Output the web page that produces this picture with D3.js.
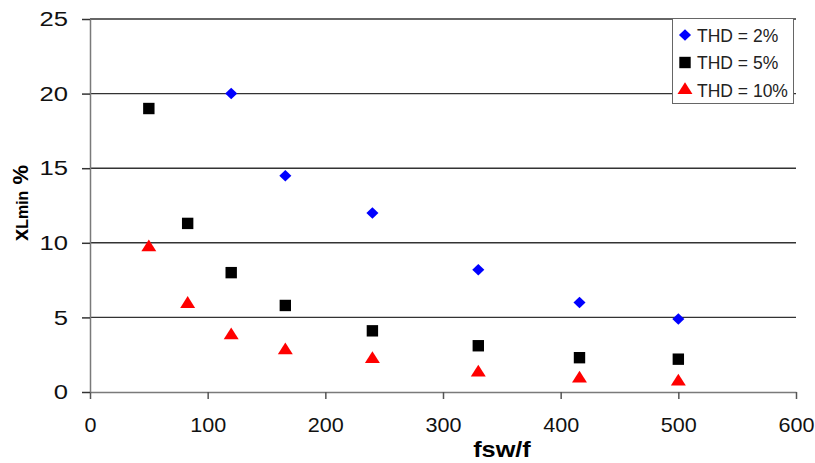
<!DOCTYPE html>
<html>
<head>
<meta charset="utf-8">
<script src="https://cdn.jsdelivr.net/npm/d3@7"></script>
<style>
body { margin: 0; background: #fff; }
svg text { font-family: "Liberation Sans", Arial, sans-serif; }
</style>
</head>
<body>
<svg id="graphique" width="815" height="463"></svg>
<script>
// valeurs
var fsw2 = [120, 166, 240, 330, 416, 500];
var thd2 = [20, 14.5, 12, 8.2, 6, 4.9];
var fsw5 = [50, 83, 120, 166, 240, 330, 416, 500];
var thd5 = [19, 11.3, 8, 5.8, 4.1, 3.1, 2.3, 2.2];
var fsw10 = [50, 83, 120, 166, 240, 330, 416, 500];
var thd10 = [9.7, 5.9, 3.8, 2.8, 2.2, 1.3, 0.9, 0.7];
var xTicks = [0, 100, 200, 300, 400, 500, 600];
var yTicks = [0, 5, 10, 15, 20, 25];
var legendLabels = ["THD = 2%", "THD = 5%", "THD = 10%"];

var series = [
	{ x: fsw2, y: thd2, symbol: d3.symbolSquare, color: "#0000ff", size: 66, rot: 45, sx: 1.05 },
	{ x: fsw5, y: thd5, symbol: d3.symbolSquare, color: "#000000", size: 130, rot: 0, sx: 1 },
	{ x: fsw10, y: thd10, symbol: d3.symbolTriangle, color: "#ff0000", size: 80, rot: 0, sx: 1.1 }
];

function markTransform(s, px, py){
	return "translate(" + px + "," + py + ") scale(" + s.sx + ",1) rotate(" + s.rot + ")";
}

var graphique = d3.select("#graphique");
var MARGINS = { top: 19, right: 19, bottom: 71, left: 90 };
var WIDTH = 815, HEIGHT = 463;

var xScale = d3.scaleLinear().domain([0, 600]).range([MARGINS.left, WIDTH - MARGINS.right]);
var yScale = d3.scaleLinear().domain([0, 25]).range([HEIGHT - MARGINS.bottom, MARGINS.top]);

// lignes horizontales
graphique.append("g").selectAll("line")
	.data(yTicks.filter(function(d){ return d > 0; }))
	.enter().append("line")
	.attr("x1", xScale(0)).attr("x2", xScale(600))
	.attr("y1", function(d){ return yScale(d); })
	.attr("y2", function(d){ return yScale(d); })
	.attr("stroke", "#333")
	.attr("stroke-width", 1.4);

// axes
var xAxis = d3.axisBottom(xScale).tickValues(xTicks).tickSize(7).tickSizeOuter(0);
var yAxis = d3.axisLeft(yScale).tickValues(yTicks).tickSize(8).tickSizeOuter(0);

var gx = graphique.append("g")
	.attr("transform", "translate(0," + yScale(0) + ")")
	.call(xAxis);
gx.selectAll(".tick text").attr("font-size", 20).attr("dy", "1.5em").attr("fill", "#111")
	.attr("transform", "scale(1.08,1)")
	.attr("x", 0);

var gy = graphique.append("g")
	.attr("transform", "translate(" + xScale(0) + ",0)")
	.call(yAxis);
gy.selectAll(".tick text").attr("font-size", 21).attr("fill", "#111")
	.attr("x", 0)
	.attr("transform", "translate(-22,0) scale(1.22,1)");

graphique.selectAll(".domain, .tick line").attr("stroke", "#7a7a7a").attr("stroke-width", 1.5);
gx.selectAll(".tick line").attr("stroke", "#555");
gy.selectAll(".tick line").attr("stroke", "#333");

// titres des axes
graphique.append("text")
	.attr("transform", "translate(502,457) scale(1.15,1)")
	.attr("text-anchor", "middle")
	.attr("font-size", 22).attr("font-weight", "bold")
	.text("fsw/f");

var ylab = graphique.append("text")
	.attr("transform", "translate(28,203) rotate(-90)")
	.attr("text-anchor", "middle")
	.attr("font-weight", "bold");
ylab.append("tspan").attr("font-size", 22).text("x");
ylab.append("tspan").attr("font-size", 16).text("Lmin");
ylab.append("tspan").attr("font-size", 22).text(" %");

// points
series.forEach(function(s){
	var pts = s.x.map(function(v, i){ return { x: v, y: s.y[i] }; });
	graphique.append("g").selectAll("path")
		.data(pts)
		.enter().append("path")
		.attr("d", d3.symbol().type(s.symbol).size(s.size))
		.attr("transform", function(d){ return markTransform(s, xScale(d.x), yScale(d.y)); })
		.attr("fill", s.color);
});

// legende
var leg = graphique.append("g");
leg.append("rect")
	.attr("x", 672.5).attr("y", 18.5).attr("width", 121).attr("height", 85)
	.attr("fill", "#fff").attr("stroke", "#666").attr("stroke-width", 1);
legendLabels.forEach(function(lab, i){
	var cy = 35 + i * 27.5;
	leg.append("path")
		.attr("d", d3.symbol().type(series[i].symbol).size(series[i].size))
		.attr("transform", markTransform(series[i], 685, cy))
		.attr("fill", series[i].color);
	leg.append("text")
		.attr("x", 697).attr("y", cy + 6.5)
		.attr("font-size", 17.5).attr("fill", "#222")
		.text(lab);
});
</script>
</body>
</html>
